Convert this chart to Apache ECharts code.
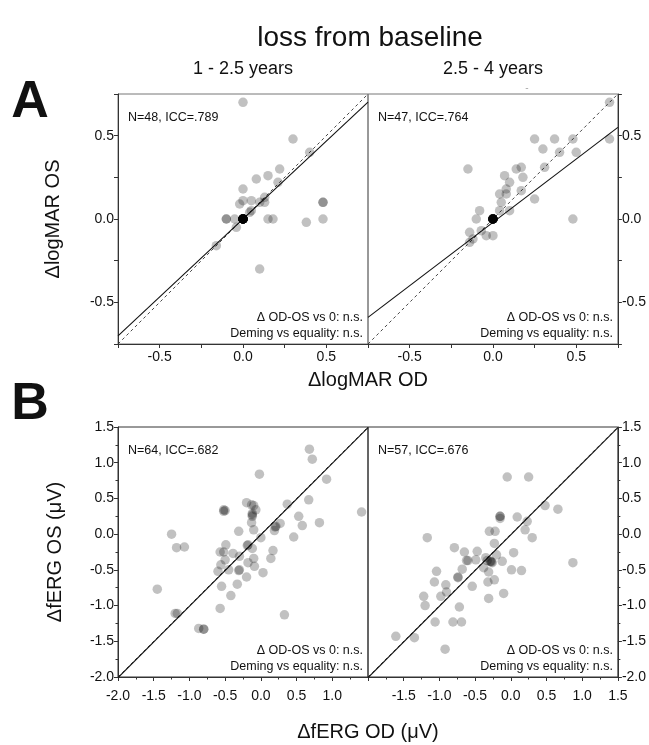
<!DOCTYPE html>
<html>
<head>
<meta charset="utf-8">
<script src="https://cdn.jsdelivr.net/npm/echarts@6/dist/echarts.min.js"></script>
<style>
  html, body { margin: 0; padding: 0; background: #fff; }
  #chart { width: 649px; height: 745px; }
</style>
</head>
<body>
<div id="chart"></div>
<script>
// Change in visual acuity (logMAR), OD vs OS, 1-2.5 years after baseline
const logmarEarly = [
  [0.00, 0.70], [0.30, 0.48], [0.40, 0.40], [0.22, 0.30], [0.08, 0.24], [0.15, 0.26], [0.21, 0.22], [0.00, 0.18],
  [-0.02, 0.09], [0.00, 0.11], [0.05, 0.11], [0.10, 0.10], [0.13, 0.13], [0.13, 0.10], [0.05, 0.05], [0.04, 0.04],
  [0.48, 0.10], [0.48, 0.10], [-0.10, 0.00], [-0.10, 0.00], [-0.05, 0.00], [-0.04, -0.05], [0.15, 0.00], [0.18, 0.00],
  [0.38, -0.02], [0.48, 0.00], [-0.16, -0.16], [0.10, -0.30],
  [0, 0], [0, 0], [0, 0], [0, 0], [0, 0], [0, 0], [0, 0], [0, 0], [0, 0], [0, 0],
  [0, 0], [0, 0], [0, 0], [0, 0], [0, 0], [0, 0], [0, 0], [0, 0], [0, 0], [0, 0]
];
// Change in visual acuity (logMAR), 2.5-4 years after baseline
const logmarLate = [
  [0.70, 0.70], [0.70, 0.48], [0.25, 0.48], [0.37, 0.48], [0.48, 0.48], [0.30, 0.42], [0.40, 0.40], [0.50, 0.40],
  [-0.15, 0.30], [0.31, 0.31], [0.14, 0.30], [0.17, 0.31], [0.07, 0.26], [0.18, 0.25], [0.10, 0.22], [0.08, 0.18],
  [0.04, 0.15], [0.08, 0.15], [0.17, 0.17], [0.25, 0.12], [0.05, 0.10], [0.04, 0.05], [0.10, 0.05], [-0.08, 0.05],
  [-0.10, 0.00], [0.48, 0.00], [-0.14, -0.08], [-0.07, -0.07], [-0.04, -0.10], [0.00, -0.10], [-0.14, -0.14], [-0.12, -0.12],
  [0, 0], [0, 0], [0, 0], [0, 0], [0, 0], [0, 0], [0, 0], [0, 0], [0, 0], [0, 0],
  [0, 0], [0, 0], [0, 0], [0, 0], [0, 0]
];
// Change in flicker ERG amplitude (µV), 1-2.5 years
const fergEarly = [
  [0.68, 1.19], [0.72, 1.05], [-0.02, 0.84], [0.92, 0.77], [1.41, 0.31], [0.67, 0.48], [0.37, 0.42], [-0.20, 0.44],
  [-0.10, 0.40], [-0.07, 0.34], [-0.52, 0.34], [-0.52, 0.32], [-0.12, 0.27], [-0.12, 0.25], [0.53, 0.25], [-0.13, 0.16],
  [0.58, 0.12], [0.82, 0.16], [0.27, 0.15], [0.21, 0.11], [0.19, 0.05], [-0.10, 0.06], [-0.31, 0.04], [-1.25, 0.00],
  [0.00, -0.05], [0.46, -0.04], [-1.18, -0.19], [-1.07, -0.18], [-0.49, -0.15], [-0.19, -0.16], [-0.12, -0.20], [0.17, -0.23],
  [-0.57, -0.25], [-0.39, -0.27], [-0.50, -0.36], [-0.30, -0.31], [-0.10, -0.34], [0.14, -0.34], [-0.18, -0.40], [-0.09, -0.45],
  [-0.56, -0.43], [-0.45, -0.50], [-0.60, -0.52], [-0.31, -0.51], [-0.20, -0.60], [0.03, -0.54], [-0.55, -0.73], [-0.33, -0.70],
  [-0.42, -0.86], [-1.45, -0.77], [-0.57, -1.04], [-1.20, -1.11], [-1.17, -1.11], [0.33, -1.13], [-0.87, -1.32], [-0.80, -1.33],
  [0.20, 0.10], [-0.18, -0.15], [-0.80, -1.33], [-0.12, 0.29], [-0.50, 0.33], [-0.13, 0.41], [-0.52, -0.25], [-0.30, -0.50]
];
// Change in flicker ERG amplitude (µV), 2.5-4 years
const fergLate = [
  [-0.05, 0.80], [0.25, 0.80], [0.48, 0.40], [0.66, 0.35], [-0.15, 0.25], [-0.15, 0.22], [0.09, 0.24], [0.23, 0.18],
  [0.20, 0.06], [0.30, -0.05], [-1.17, -0.05], [-0.30, 0.04], [-0.22, 0.04], [-0.23, -0.13], [-0.79, -0.19], [-0.65, -0.25],
  [-0.47, -0.24], [0.04, -0.26], [-0.20, -0.29], [-0.62, -0.37], [-0.49, -0.36], [-0.35, -0.33], [-0.29, -0.38], [-0.26, -0.40],
  [-0.12, -0.38], [-0.38, -0.47], [-0.68, -0.49], [0.01, -0.50], [0.15, -0.51], [-0.31, -0.53], [-1.04, -0.52], [0.87, -0.40],
  [-0.74, -0.61], [-0.23, -0.64], [-1.07, -0.67], [-0.32, -0.67], [-0.54, -0.73], [-0.91, -0.71], [-0.90, -0.81], [-0.98, -0.87],
  [-1.22, -0.87], [-0.10, -0.83], [-0.31, -0.90], [-1.20, -1.00], [-0.72, -1.02], [-1.06, -1.23], [-0.81, -1.23], [-0.69, -1.23],
  [-1.61, -1.43], [-1.35, -1.45], [-0.92, -1.61],
  [-0.15, 0.25], [-0.60, -0.37], [-0.28, -0.38], [-0.27, -0.39], [-0.74, -0.60], [-0.33, -0.37]
];

// Deming regression per panel: [slope, intercept]
const demingEarlyLogmar = [0.935, 0.0];
const demingLateLogmar = [0.76, -0.02];
const demingEarlyFerg = [1.0, -0.01];
const demingLateFerg = [1.0, -0.01];

// Panel annotations
const statsText = ['N=48, ICC=.789', 'N=47, ICC=.764', 'N=64, ICC=.682', 'N=57, ICC=.676'];
const testLines = ['\u0394 OD-OS vs 0: n.s.', 'Deming vs equality: n.s.'];
const periodLabels = ['1 - 2.5 years', '2.5 - 4 years'];

// Axis ranges
const logmarRange = [-0.75, 0.75];
const fergRange = [-2.0, 1.5];

const FONT = '"Liberation Sans", Arial, Helvetica, sans-serif';
const INK = '#111';

const panels = [
  { left: 118, top: 94,  data: logmarEarly, fit: demingEarlyLogmar, range: logmarRange, side: 'left',  kind: 'logmar', border: '#777' },
  { left: 368, top: 94,  data: logmarLate,  fit: demingLateLogmar,  range: logmarRange, side: 'right', kind: 'logmar', border: '#777' },
  { left: 118, top: 427, data: fergEarly,   fit: demingEarlyFerg,   range: fergRange,   side: 'left',  kind: 'ferg',   border: '#333' },
  { left: 368, top: 427, data: fergLate,    fit: demingLateFerg,    range: fergRange,   side: 'right', kind: 'ferg',   border: '#333' }
];
const SIZE = 250;

const grid = [], xAxis = [], yAxis = [], series = [];

function halfStepLabel(v) {
  const twice = v * 2;
  if (Math.abs(twice - Math.round(twice)) > 1e-6) return '';
  if (Math.abs(v) > 0.7) return '';
  return v.toFixed(1);
}

panels.forEach((p, i) => {
  grid.push({
    left: p.left, top: p.top, width: SIZE, height: SIZE,
    show: true, borderColor: p.border, borderWidth: 1, backgroundColor: 'transparent'
  });
  const axisLine = { show: true, onZero: false, lineStyle: { color: '#333', width: 1 } };
  const labelStyle = { color: INK, fontFamily: FONT, fontSize: 14 };
  const tick = { show: true, length: 4, lineStyle: { color: '#333' } };
  if (p.kind === 'logmar') {
    xAxis.push({
      gridIndex: i, type: 'value', min: p.range[0], max: p.range[1], interval: 0.25,
      axisLine, axisTick: tick,
      axisLabel: Object.assign({ margin: 6, formatter: halfStepLabel }, labelStyle),
      splitLine: { show: false }
    });
    yAxis.push({
      gridIndex: i, type: 'value', min: p.range[0], max: p.range[1], interval: 0.25,
      position: p.side,
      axisLine, axisTick: tick,
      axisLabel: Object.assign({ margin: 4, formatter: halfStepLabel }, labelStyle),
      splitLine: { show: false }
    });
  } else {
    const minor = { show: true, splitNumber: 2, length: 2.5, lineStyle: { color: '#333' } };
    xAxis.push({
      gridIndex: i, type: 'value', min: p.range[0], max: p.range[1], interval: 0.5,
      axisLine, axisTick: tick, minorTick: minor,
      axisLabel: Object.assign({
        margin: 12,
        showMinLabel: true, showMaxLabel: true,
        formatter: v => (p.side === 'left' ? (v >= 1.5 ? '' : v.toFixed(1)) : (v <= -2 ? '' : v.toFixed(1)))
      }, labelStyle),
      splitLine: { show: false }
    });
    yAxis.push({
      gridIndex: i, type: 'value', min: p.range[0], max: p.range[1], interval: 0.5,
      position: p.side,
      axisLine, axisTick: tick, minorTick: minor,
      axisLabel: Object.assign({ margin: 4, showMinLabel: true, showMaxLabel: true, formatter: v => v.toFixed(1) }, labelStyle),
      splitLine: { show: false }
    });
  }

  const lo = p.range[0], hi = p.range[1];
  // line of equality
  series.push({
    type: 'line', xAxisIndex: i, yAxisIndex: i, data: [[lo, lo], [hi, hi]],
    showSymbol: false, symbol: 'none', silent: true, clip: true, z: 2,
    lineStyle: { color: '#333', width: 0.9, type: [3, 3] }
  });
  // Deming regression line
  const [m, b] = p.fit;
  series.push({
    type: 'line', xAxisIndex: i, yAxisIndex: i, data: [[lo, m * lo + b], [hi, m * hi + b]],
    showSymbol: false, symbol: 'none', silent: true, clip: true, z: 3,
    lineStyle: { color: '#111', width: 1.1 }
  });
  // eyes
  series.push({
    type: 'scatter', xAxisIndex: i, yAxisIndex: i, data: p.data,
    symbol: 'circle', symbolSize: 9.5, z: 4,
    itemStyle: { color: 'rgba(0,0,0,0.3)' }, silent: true
  });
});

function txt(x, y, text, size, opts) {
  return Object.assign({
    type: 'text', x, y, silent: true,
    style: Object.assign({
      text, font: `${size}px ${FONT}`, fill: INK, align: 'center', verticalAlign: 'middle'
    }, (opts && opts.style) || {})
  }, (opts && opts.el) || {});
}

const graphic = [
  txt(370, 38, 'loss from baseline', 28),
  txt(243, 69, periodLabels[0], 18),
  txt(493, 69, periodLabels[1], 18),
  txt(527, 88, '-', 10, { style: { fill: '#aaa' } }),
  txt(30, 103, 'A', 52, { style: { font: `bold 52px ${FONT}` } }),
  txt(30, 405, 'B', 52, { style: { font: `bold 52px ${FONT}` } }),
  txt(53, 219, '\u0394logMAR OS', 20, { el: { rotation: Math.PI / 2 } }),
  txt(368, 380, '\u0394logMAR OD', 20),
  txt(55, 552, '\u0394fERG OS (\u03bcV)', 20, { el: { rotation: Math.PI / 2 } }),
  txt(368, 732, '\u0394fERG OD (\u03bcV)', 20)
];

// per-panel annotations
panels.forEach((p, i) => {
  graphic.push(txt(p.left + 10, p.top + 24, statsText[i], 12.5, { style: { align: 'left' } }));
  graphic.push(txt(p.left + SIZE - 5, p.top + SIZE - 26, testLines[0], 12.5, { style: { align: 'right' } }));
  graphic.push(txt(p.left + SIZE - 5, p.top + SIZE - 10, testLines[1], 12.5, { style: { align: 'right' } }));
});

const chart = echarts.init(document.getElementById('chart'), null, { renderer: 'canvas' });
chart.setOption({
  backgroundColor: '#fff',
  animation: false,
  grid, xAxis, yAxis, series, graphic
});
</script>
</body>
</html>
